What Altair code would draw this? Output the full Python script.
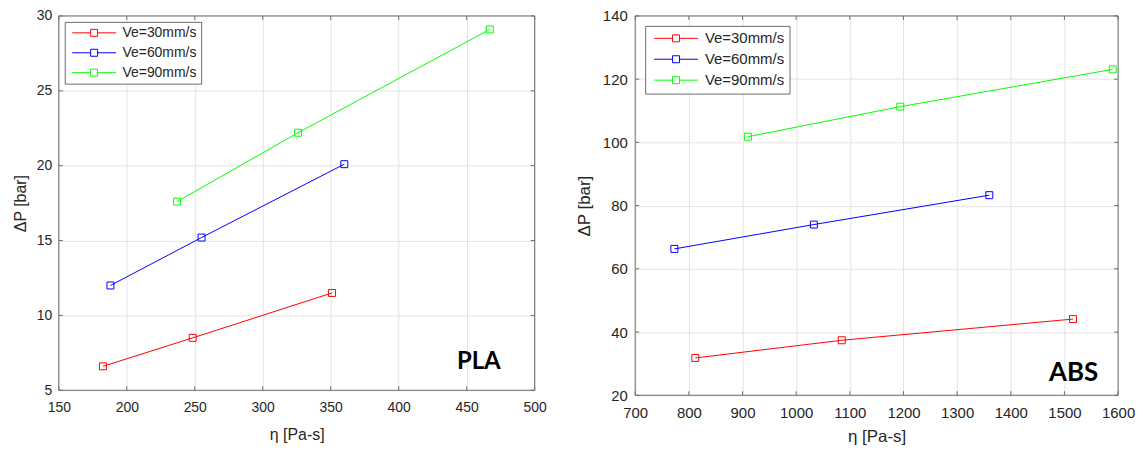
import altair as alt
import pandas as pd

series = ["Ve=30mm/s", "Ve=60mm/s", "Ve=90mm/s"]
series_colors = ["#ff0000", "#0000ff", "#00ff00"]

# PLA panel
pla_eta_30 = [182.5, 248.5, 351.0]
pla_dp_30 = [6.6, 8.5, 11.5]
pla_eta_60 = [188.0, 255.0, 360.0]
pla_dp_60 = [12.0, 15.2, 20.1]
pla_eta_90 = [237.0, 326.0, 467.0]
pla_dp_90 = [17.6, 22.2, 29.1]

# ABS panel
abs_eta_30 = [812.0, 1085.0, 1516.0]
abs_dp_30 = [31.8, 37.4, 44.1]
abs_eta_60 = [773.0, 1033.0, 1360.0]
abs_dp_60 = [66.3, 74.0, 83.3]
abs_eta_90 = [910.0, 1194.0, 1590.0]
abs_dp_90 = [101.8, 111.3, 123.1]

pla_x_ticks = [150, 200, 250, 300, 350, 400, 450, 500]
pla_y_ticks = [5, 10, 15, 20, 25, 30]
abs_x_ticks = [700, 800, 900, 1000, 1100, 1200, 1300, 1400, 1500, 1600]
abs_y_ticks = [20, 40, 60, 80, 100, 120, 140]

x_title = "η [Pa-s]"
y_title = "ΔP [bar]"

DARK = "#262626"
FRAME = "#6e6e6e"
GRID = "#e4e4e4"

# legend symbol: short line with a hollow square in its middle
LEG_PATH = "M-1,0H4.29M6.29,0H11.57M4.29,-1H6.29V1H4.29Z"


def build_df(etas, dps):
    rows = []
    for name, e, d in zip(series, etas, dps):
        for a, b in zip(e, d):
            rows.append({"series": name, "eta": a, "dp": b})
    return pd.DataFrame(rows)


def panel(df, xdom, xticks, ydom, yticks, w, h, fs, tfs, ylabpad, ytitlepad,
          xlabpad, xtitlepad, leg_offset, leg_pad, leg_rowpad, label, label_eta,
          label_dp, label_fs):
    x_axis = alt.Axis(values=xticks, title=x_title, grid=True, gridColor=GRID,
                      ticks=False, domain=False, labelFlush=False, labelOverlap=False,
                      labelFont="Liberation Sans", labelFontSize=fs, labelColor=DARK,
                      labelPadding=xlabpad, titleFont="Liberation Sans", titleFontSize=tfs,
                      titleFontWeight="normal", titleColor=DARK, titlePadding=xtitlepad,
                      format="d")
    y_axis = alt.Axis(values=yticks, title=y_title, grid=True, gridColor=GRID,
                      ticks=False, domain=False, labelFlush=False, labelOverlap=False,
                      labelFont="Liberation Sans", labelFontSize=fs, labelColor=DARK,
                      labelPadding=ylabpad, titleFont="Liberation Sans", titleFontSize=tfs,
                      titleFontWeight="normal", titleColor=DARK, titlePadding=ytitlepad,
                      format="d")
    xs = alt.Scale(domain=xdom, nice=False, zero=False)
    ys = alt.Scale(domain=ydom, nice=False, zero=False)
    X = alt.X("eta:Q", scale=xs, axis=x_axis)
    Y = alt.Y("dp:Q", scale=ys, axis=y_axis)

    legend = alt.Legend(title=None, orient="top-left", offset=leg_offset, padding=leg_pad,
                        strokeColor=FRAME, fillColor="white", cornerRadius=0,
                        labelFont="Liberation Sans", labelFontSize=fs, labelColor=DARK,
                        symbolType=LEG_PATH, symbolSize=49, symbolStrokeWidth=1,
                        symbolFillColor="white", labelOffset=40, rowPadding=leg_rowpad,
                        symbolOpacity=1)
    C = alt.Color("series:N", scale=alt.Scale(domain=series, range=series_colors),
                  legend=legend)

    base = alt.Chart(df)
    lines = base.mark_line(strokeWidth=1).encode(x=X, y=Y, color=C, detail="series:N")
    pts = base.mark_point(shape="square", filled=False, size=49, strokeWidth=1,
                          opacity=1).encode(x=X, y=Y, color=C)

    ann = alt.Chart(pd.DataFrame({"eta": [label_eta], "dp": [label_dp], "t": [label]})).mark_text(
        font="Lato", fontWeight="bold", fontSize=label_fs, align="right",
        baseline="alphabetic", color="black").encode(x=X, y=Y, text="t:N")

    frame_v = alt.Chart(pd.DataFrame({"eta": xdom})).mark_rule(
        color=FRAME, strokeWidth=1).encode(x=X)
    frame_h = alt.Chart(pd.DataFrame({"dp": ydom})).mark_rule(
        color=FRAME, strokeWidth=1).encode(y=Y)

    xt = alt.Chart(pd.DataFrame({"eta": xticks}))
    xtick_top = xt.mark_rule(color=FRAME).encode(x=X, y=alt.value(0), y2=alt.value(4))
    xtick_bot = xt.mark_rule(color=FRAME).encode(x=X, y=alt.value(h - 4), y2=alt.value(h))
    yt = alt.Chart(pd.DataFrame({"dp": yticks}))
    ytick_l = yt.mark_rule(color=FRAME).encode(y=Y, x=alt.value(0), x2=alt.value(4))
    ytick_r = yt.mark_rule(color=FRAME).encode(y=Y, x=alt.value(w - 4), x2=alt.value(w))

    return alt.layer(lines, pts, ann, frame_v, frame_h, xtick_top, xtick_bot,
                     ytick_l, ytick_r).properties(width=w, height=h)


pla_df = build_df([pla_eta_30, pla_eta_60, pla_eta_90], [pla_dp_30, pla_dp_60, pla_dp_90])
abs_df = build_df([abs_eta_30, abs_eta_60, abs_eta_90], [abs_dp_30, abs_dp_60, abs_dp_90])

left = panel(pla_df, [150, 500], pla_x_ticks, [5, 30], pla_y_ticks, 478, 376, 14, 16,
             7, 8, 10, 12, 6, 4, 6, "PLA", 475, 6.4, 24)
right = panel(abs_df, [700, 1600], abs_x_ticks, [20, 140], abs_y_ticks, 485, 381, 15, 17,
              8, 9, 10, 8, 10, 5, 5, "ABS", 1563, 24.6, 26)

chart = alt.hconcat(left, right, spacing=101, bounds="flush").resolve_scale(
    x="independent", y="independent", color="independent"
).resolve_legend(color="independent").properties(
    padding={"left": 4, "top": 0, "right": 0, "bottom": 0}
).configure_view(stroke=None)

chart.save("out.html", embed_options={"renderer": "svg", "actions": False})
